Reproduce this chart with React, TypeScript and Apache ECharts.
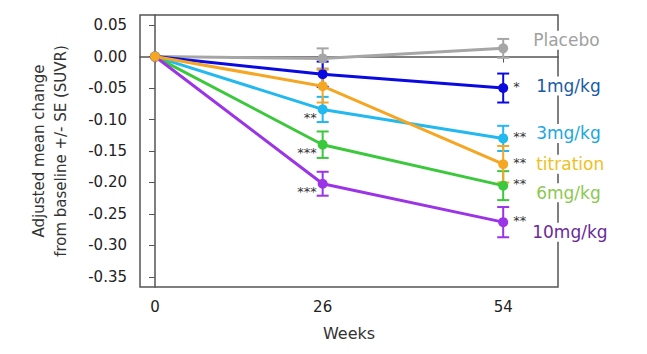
import React, { useEffect, useRef } from "react";
import * as echarts from "echarts";

const weeks = [0, 26, 54];
const xTicks = [0, 26, 54];
const yTicks = [-0.35, -0.3, -0.25, -0.2, -0.15, -0.1, -0.05, 0, 0.05];

const groupNames = ["Placebo", "1mg/kg", "3mg/kg", "titration", "6mg/kg", "10mg/kg"];

const placeboMean = [0, -0.003, 0.013];
const placeboSE = [0, 0.016, 0.015];
const mg1Mean = [0, -0.028, -0.05];
const mg1SE = [0, 0.02, 0.023];
const mg3Mean = [0, -0.084, -0.13];
const mg3SE = [0, 0.02, 0.02];
const titrationMean = [0, -0.047, -0.171];
const titrationSE = [0, 0.026, 0.029];
const mg6Mean = [0, -0.14, -0.205];
const mg6SE = [0, 0.021, 0.023];
const mg10Mean = [0, -0.202, -0.263];
const mg10SE = [0, 0.019, 0.024];

const placeboStars = ["", "", ""];
const mg1Stars = ["", "", "*"];
const mg3Stars = ["", "**", "**"];
const titrationStars = ["", "", "**"];
const mg6Stars = ["", "***", "**"];
const mg10Stars = ["", "***", "**"];

const FONT = "DejaVu Sans";

const groups = [
  { name: groupNames[0], mean: placeboMean, se: placeboSE, stars: placeboStars, color: "#a6a6a6", labelColor: "#a0a0a0", offset: [13, -8] },
  { name: groupNames[1], mean: mg1Mean, se: mg1SE, stars: mg1Stars, color: "#0a0ae0", labelColor: "#1a5aa8", offset: [16, -2] },
  { name: groupNames[2], mean: mg3Mean, se: mg3SE, stars: mg3Stars, color: "#22b8f0", labelColor: "#1aa8e0", offset: [16, -5] },
  { name: groupNames[4], mean: mg6Mean, se: mg6SE, stars: mg6Stars, color: "#3cc83c", labelColor: "#8cc850", offset: [16, 7] },
  { name: groupNames[5], mean: mg10Mean, se: mg10SE, stars: mg10Stars, color: "#9b33e6", labelColor: "#6a2a9a", offset: [12, 10] },
  { name: groupNames[3], mean: titrationMean, se: titrationSE, stars: titrationStars, color: "#f5a623", labelColor: "#f0c020", offset: [16, 0] },
];

export default function App() {
  const ref = useRef<HTMLDivElement>(null);
  useEffect(() => {
    document.body.style.margin = "0";
    if (!ref.current) return;
    const chart = echarts.init(ref.current, undefined, { renderer: "svg" });
    const series: any[] = [];
    groups.forEach((g) => {
      series.push({
        type: "custom",
        name: g.name + "-err",
        z: 2,
        data: weeks.map((w, i) => [w, g.mean[i], g.se[i], i]),
        renderItem: (params: any, api: any) => {
          const x = api.value(0);
          const m = api.value(1);
          const se = api.value(2);
          const idx = api.value(3);
          const children: any[] = [];
          const c = api.coord([x, m]);
          if (se > 0) {
            const top = api.coord([x, m + se]);
            const bot = api.coord([x, m - se]);
            const hw = 6;
            const st = { stroke: g.color, lineWidth: 2 };
            children.push(
              { type: "line", shape: { x1: top[0], y1: top[1], x2: bot[0], y2: bot[1] }, style: st },
              { type: "line", shape: { x1: top[0] - hw, y1: top[1], x2: top[0] + hw, y2: top[1] }, style: st },
              { type: "line", shape: { x1: bot[0] - hw, y1: bot[1], x2: bot[0] + hw, y2: bot[1] }, style: st }
            );
          }
          const s = g.stars[idx];
          if (s) {
            const at26 = idx === 1;
            children.push({
              type: "text",
              x: at26 ? c[0] - 6 : c[0] + 10,
              y: at26 ? c[1] + 8 : c[1] - 2,
              style: {
                text: s,
                fill: "#333",
                font: `13px '${FONT}'`,
                align: at26 ? "right" : "left",
                verticalAlign: "middle",
              },
            });
          }
          return { type: "group", children };
        },
      });
      series.push({
        type: "line",
        name: g.name,
        z: 3,
        data: weeks.map((w, i) => [w, g.mean[i]]),
        symbol: "circle",
        symbolSize: 10,
        color: g.color,
        lineStyle: { width: 3, color: g.color },
        itemStyle: { color: g.color },
        endLabel: {
          show: true,
          formatter: g.name,
          color: g.labelColor,
          fontSize: 17,
          fontFamily: FONT,
          backgroundColor: "#fff",
          padding: [1, 3, 1, 9],
          offset: g.offset,
        },
      });
    });

    chart.setOption({
      animation: false,
      grid: {
        left: 140,
        right: 89,
        top: 15,
        bottom: 67,
        show: true,
        borderColor: "#555",
        borderWidth: 1.5,
        backgroundColor: "transparent",
      },
      xAxis: {
        type: "value",
        min: -2.33,
        max: 62.5,
        name: "Weeks",
        nameLocation: "middle",
        nameGap: 38,
        nameTextStyle: { fontSize: 16, fontFamily: FONT, color: "#333" },
        axisLine: { show: true, lineStyle: { color: "#555", width: 1.5 } },
        axisTick: { show: true, customValues: xTicks, length: 6, lineStyle: { color: "#555" } },
        axisLabel: {
          customValues: xTicks,
          fontSize: 15,
          fontFamily: FONT,
          color: "#222",
          margin: 12,
        },
        splitLine: { show: false },
      },
      yAxis: {
        type: "value",
        min: -0.366,
        max: 0.066,
        name: "Adjusted mean change\nfrom baseline +/- SE (SUVR)",
        nameLocation: "middle",
        nameGap: 68,
        nameRotate: 90,
        nameTextStyle: { fontSize: 15, fontFamily: FONT, color: "#333", lineHeight: 22 },
        axisLine: { show: true, lineStyle: { color: "#555", width: 1.5 } },
        axisTick: { show: true, customValues: yTicks, length: 6, lineStyle: { color: "#555" } },
        axisLabel: {
          customValues: yTicks,
          formatter: (v: number) => v.toFixed(2),
          fontSize: 15,
          fontFamily: FONT,
          color: "#222",
          margin: 13,
        },
        splitLine: { show: false },
      },
      series,
    });
    return () => chart.dispose();
  }, []);
  return <div ref={ref} style={{ width: 647, height: 354 }} />;
}
